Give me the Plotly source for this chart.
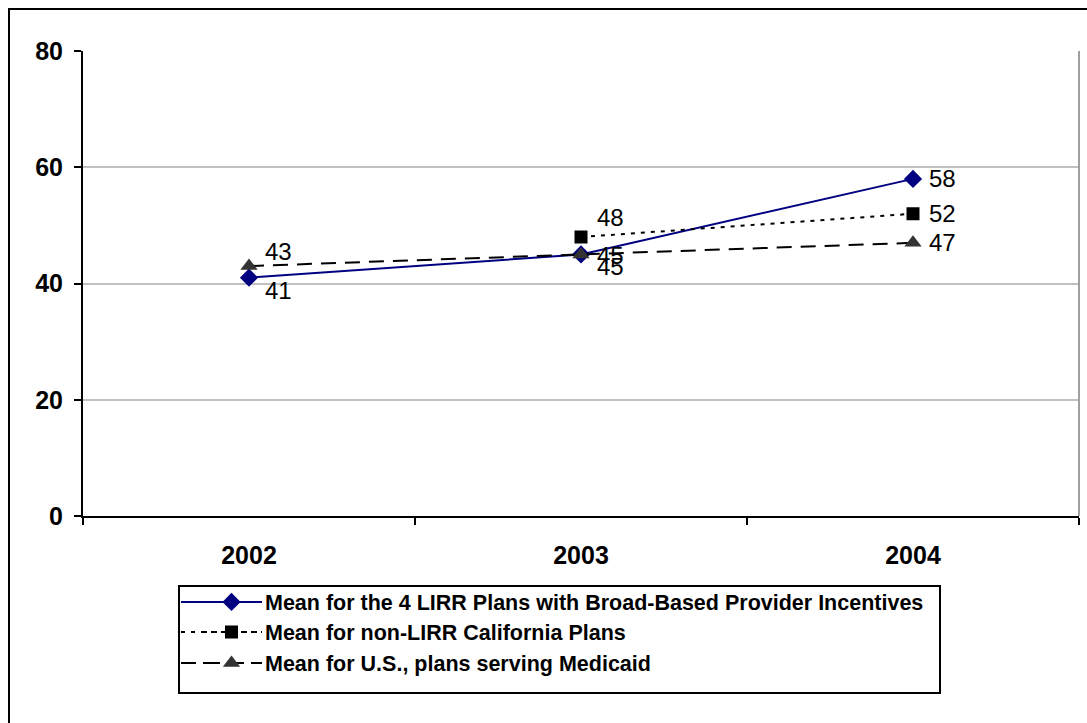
import plotly.graph_objects as go

years = ["2002", "2003", "2004"]
lirr_broad = [41, 45, 58]
non_lirr_ca = [None, 48, 52]
us_medicaid = [43, 45, 47]

names = [
    "Mean for the 4 LIRR Plans with Broad-Based Provider Incentives",
    "Mean for non-LIRR California Plans",
    "Mean for U.S., plans serving Medicaid",
]

# vertical nudge (px, up is positive) of each value label
lirr_label_shift = [-13, -1, 0]
ca_label_shift = [0, 20, 0]
us_label_shift = [15, -12, 0]

W, H = 1087, 723
L, R, T, B = 83, 8, 51, 207
pw, ph = W - L - R, H - T - B


def px(x):
    return (x - L) / pw


def py(y):
    return (H - B - y) / ph


label_font = dict(family="Arial", size=24, color="black")
tick_font = dict(family="Arial", size=25, color="black", weight="bold")

styles = [
    dict(line=dict(color="#000080", width=2),
         marker=dict(symbol="diamond", size=14, color="#000080")),
    dict(line=dict(color="black", width=2, dash="4px,6px"),
         marker=dict(symbol="square", size=13, color="black")),
    dict(line=dict(color="black", width=2, dash="15px,9px"),
         marker=dict(symbol="triangle-up", size=15, color="#333333")),
]
legend_ids = ["legend", "legend2", "legend3"]
legend_rows = [602, 632, 663]

fig = go.Figure()
for vals, name, st, lg in zip((lirr_broad, non_lirr_ca, us_medicaid),
                              names, styles, legend_ids):
    fig.add_trace(go.Scatter(
        x=years, y=vals, name=name, mode="lines+markers",
        line=st["line"], marker=st["marker"], legend=lg, connectgaps=False,
    ))

# value labels, placed by category index on the category axis
annotations = []
for vals, shifts in ((lirr_broad, lirr_label_shift),
                     (non_lirr_ca, ca_label_shift),
                     (us_medicaid, us_label_shift)):
    for i, (v, s) in enumerate(zip(vals, shifts)):
        if v is None:
            continue
        annotations.append(dict(
            x=i, y=v, xref="x", yref="y", text=str(v), showarrow=False,
            xanchor="left", yanchor="middle", xshift=14, yshift=s,
            font=label_font,
        ))

leg_common = dict(
    xanchor="left", yanchor="middle", bgcolor="rgba(0,0,0,0)",
    borderwidth=0,
    font=dict(family="Arial", size=21.5, color="black", weight="bold"),
    itemwidth=57, itemclick=False, itemdoubleclick=False,
)
legends = {
    lg: dict(x=px(198), y=py(row), **leg_common)
    for lg, row in zip(legend_ids, legend_rows)
}

shapes = [
    # right edge of the plot area
    dict(type="line", xref="paper", yref="paper", x0=1, x1=1, y0=0, y1=1,
         line=dict(color="#a0a0a0", width=2)),
    # legend frame
    dict(type="rect", xref="paper", yref="paper",
         x0=px(179), x1=px(940), y0=py(693), y1=py(586),
         line=dict(color="black", width=2), fillcolor="rgba(0,0,0,0)",
         layer="below"),
    # chart frame
    dict(type="rect", xref="paper", yref="paper",
         x0=px(9), x1=px(1100), y0=py(740), y1=py(9),
         line=dict(color="black", width=2), fillcolor="rgba(0,0,0,0)"),
]
# longer line samples behind each legend symbol
for st, row in zip(styles, legend_rows):
    shapes.append(dict(
        type="line", xref="paper", yref="paper",
        x0=px(181), x1=px(262), y0=py(row), y1=py(row),
        line=st["line"], layer="below",
    ))

fig.update_layout(
    width=W, height=H,
    margin=dict(l=L, r=R, t=T, b=B),
    paper_bgcolor="white", plot_bgcolor="white",
    showlegend=True,
    annotations=annotations,
    shapes=shapes,
    xaxis=dict(
        type="category", range=[-0.5, 2.5], tickson="boundaries",
        ticks="outside", ticklen=7, tickwidth=2, tickcolor="black",
        showline=True, linecolor="black", linewidth=2,
        showgrid=False, zeroline=False,
        tickfont=tick_font, ticklabelstandoff=16,
    ),
    yaxis=dict(
        range=[0, 80], tickvals=[0, 20, 40, 60, 80],
        ticks="outside", ticklen=7, tickwidth=2, tickcolor="black",
        showline=True, linecolor="black", linewidth=2,
        showgrid=True, gridcolor="#c0c0c0", gridwidth=2,
        zeroline=False,
        tickfont=tick_font, ticklabelstandoff=6,
    ),
    **legends,
)

fig.write_html("out.html")
